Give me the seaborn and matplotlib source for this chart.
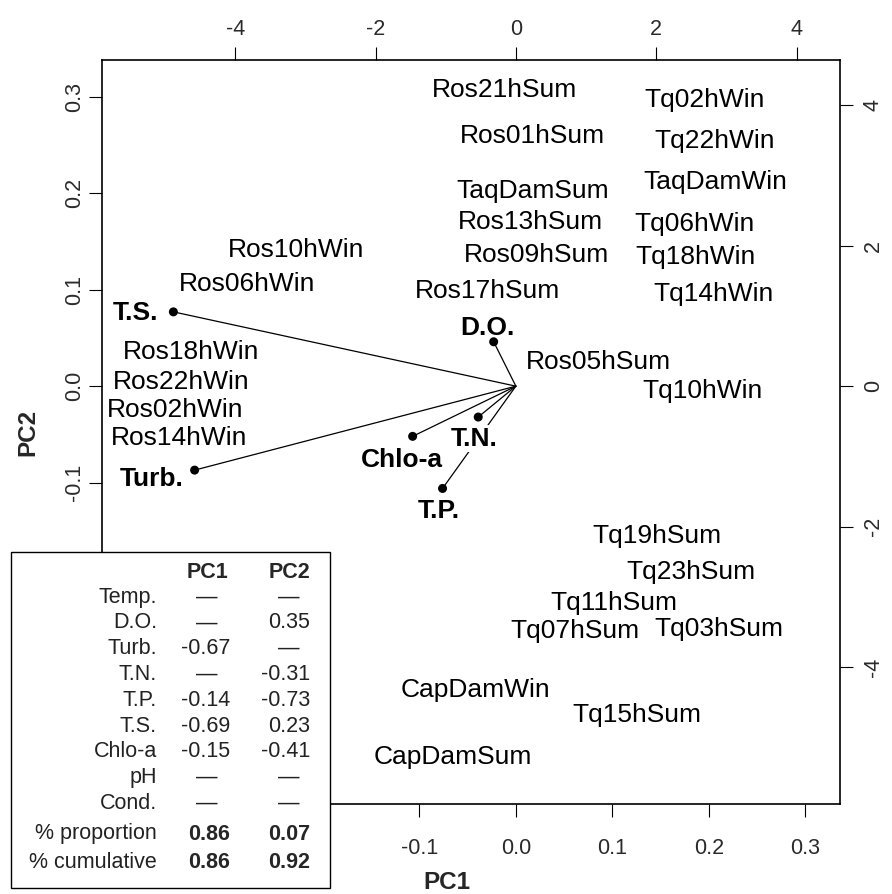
import matplotlib
matplotlib.use("Agg")
import matplotlib.pyplot as plt
import seaborn as sns
import pandas as pd
from matplotlib.patches import Rectangle

# Sample scores (PC1, PC2)
sites = ["Ros21hSum", "Tq02hWin", "Ros01hSum", "Tq22hWin", "TaqDamSum", "TaqDamWin",
         "Ros13hSum", "Tq06hWin", "Ros09hSum", "Tq18hWin", "Ros17hSum", "Tq14hWin",
         "Ros10hWin", "Ros06hWin", "Ros05hSum", "Tq10hWin", "Ros18hWin", "Ros22hWin",
         "Ros02hWin", "Ros14hWin", "Tq19hSum", "Tq23hSum", "Tq11hSum", "Tq07hSum",
         "Tq03hSum", "CapDamWin", "Tq15hSum", "CapDamSum"]
site_pc1 = [-0.16, 2.69, 0.24, 2.84, 0.24, 2.84, 0.21, 2.54, 0.30, 2.56, -0.40, 2.81,
            -3.13, -3.83, 1.17, 2.66, -4.63, -4.77, -4.86, -4.80, 2.01, 2.49, 1.39, 0.84,
            2.90, -0.57, 1.73, -0.90]
site_pc2 = [4.26, 4.11, 3.60, 3.53, 2.81, 2.94, 2.38, 2.34, 1.90, 1.87, 1.39, 1.35,
            1.98, 1.49, 0.38, -0.03, 0.52, 0.10, -0.30, -0.71, -2.10, -2.61, -3.05, -3.46,
            -3.43, -4.30, -4.65, -5.25]

# Variable loadings drawn as vectors
variables = ["T.S.", "Turb.", "D.O.", "T.N.", "Chlo-a", "T.P."]
var_pc1 = [-0.355, -0.333, -0.023, -0.039, -0.107, -0.076]
var_pc2 = [0.077, -0.087, 0.046, -0.032, -0.052, -0.106]

# Loadings table
table_rows = ["Temp.", "D.O.", "Turb.", "T.N.", "T.P.", "T.S.", "Chlo-a", "pH", "Cond."]
table_pc1 = [None, None, -0.67, None, -0.14, -0.69, -0.15, None, None]
table_pc2 = [None, 0.35, None, -0.31, -0.73, 0.23, -0.41, None, None]
proportion = [0.86, 0.07]
cumulative = [0.86, 0.92]

W, H = 892, 894
sns.set_theme(style="white")
plt.rcParams["font.family"] = ["Liberation Sans", "DejaVu Sans"]

fig = plt.figure(figsize=(W / 100, H / 100), dpi=100)
fig.patch.set_facecolor("white")


def fx(x):
    return x / W


def fy(y):
    return 1 - y / H


left, right, top, bottom = 102, 840, 60, 804
pos = [fx(left), fy(bottom), fx(right) - fx(left), fy(top) - fy(bottom)]

ax = fig.add_axes(pos)
ax.set_facecolor("white")
xlim = (-0.429, 0.336)
ylim = (-0.433, 0.338)
ax.set_xlim(*xlim)
ax.set_ylim(*ylim)

# Score axes share the frame, scaled relative to the loadings
k = 13.75
axs = fig.add_axes(pos, frameon=False)
axs.set_xlim(xlim[0] * k, xlim[1] * k)
axs.set_ylim(ylim[0] * k, ylim[1] * k)
axs.patch.set_visible(False)

for sp in ax.spines.values():
    sp.set_color("black")
    sp.set_linewidth(1.2)

tick_kw = dict(direction="out", length=9.5, width=0.8, color="black",
               labelcolor="#2a2a2a", labelsize=15.5)
ax.set_xticks([-0.1, 0.0, 0.1, 0.2, 0.3])
ax.set_yticks([-0.1, 0.0, 0.1, 0.2, 0.3])
ax.tick_params(axis="x", bottom=True, top=False, pad=15, **tick_kw)
ax.tick_params(axis="y", left=True, right=False, pad=3, **tick_kw)
ax.set_xticklabels([f"{v:.1f}" for v in ax.get_xticks()])
ax.set_yticklabels([f"{v:.1f}" for v in ax.get_yticks()], rotation=90, va="center")

axs.set_xticks([-4, -2, 0, 2, 4])
axs.set_yticks([-4, -2, 0, 2, 4])
axs.xaxis.tick_top()
axs.yaxis.tick_right()
axs.tick_params(axis="x", top=True, bottom=False, pad=4.7, **tick_kw)
axs.tick_params(axis="y", right=True, left=False, pad=7, **tick_kw)
axs.set_xticklabels([str(v) for v in axs.get_xticks().astype(int)])
axs.set_yticklabels([str(v) for v in axs.get_yticks().astype(int)], rotation=90,
                    va="center")

ax.set_xlabel("PC1", fontsize=17.5, fontweight="bold")
ax.xaxis.set_label_coords(0.4675, -0.090)
ax.set_ylabel("PC2", fontsize=17.5, fontweight="bold")
ax.yaxis.set_label_coords(-0.0854, 0.5)

# Sample labels
FS = 19
for name, x, y in zip(sites, site_pc1, site_pc2):
    axs.annotate(name, (x, y), xytext=(0, -0.36 * FS), textcoords="offset points",
                 ha="center", va="baseline", fontsize=FS, color="black")

# Loading vectors
for x, y in zip(var_pc1, var_pc2):
    ax.plot([0, x], [0, y], color="black", lw=0.9, zorder=2)
load_df = pd.DataFrame({"PC1": var_pc1, "PC2": var_pc2, "variable": variables})
sns.scatterplot(data=load_df, x="PC1", y="PC2", ax=ax, color="black", s=42,
                edgecolor="none", zorder=5, legend=False)

label_offsets = {"T.S.": (-38, 1), "Turb.": (-43, -6), "D.O.": (-6, 16),
                 "T.N.": (-4, -19), "Chlo-a": (-11, -21), "T.P.": (-4, -20)}
for name, x, y in zip(variables, var_pc1, var_pc2):
    dx, dy = label_offsets[name]
    bbox = None
    if name == "T.N.":
        bbox = dict(facecolor="white", edgecolor="none", pad=1.0)
    ax.annotate(name, (x, y), xytext=(dx * 0.72, dy * 0.72 - 0.36 * FS),
                textcoords="offset points", ha="center", va="baseline",
                fontsize=FS, fontweight="bold", color="black", bbox=bbox, zorder=4)

# Loadings table box
lx0, lx1, ly0, ly1 = 11, 330, 552, 888
fig.patches.append(Rectangle((fx(lx0), fy(ly1)), fx(lx1) - fx(lx0), fy(ly0) - fy(ly1),
                             transform=fig.transFigure, facecolor="white",
                             edgecolor="black", lw=1.0, zorder=10))
TFS = 15.5
col_num = [230, 310]
col_mid = [207, 289]
fig.text(fx(col_mid[0]), fy(572), "PC1", ha="center", va="center", fontsize=TFS,
         fontweight="bold", zorder=11)
fig.text(fx(col_mid[1]), fy(572), "PC2", ha="center", va="center", fontsize=TFS,
         fontweight="bold", zorder=11)
row_y0, row_dy = 597, 25.8
for i, (name, a, b) in enumerate(zip(table_rows, table_pc1, table_pc2)):
    yy = fy(row_y0 + i * row_dy)
    fig.text(fx(157), yy, name, ha="right", va="center", fontsize=TFS, color="#222222",
             zorder=11)
    for j, v in enumerate((a, b)):
        if v is None:
            fig.text(fx(col_mid[j]), yy, "\u2014", ha="center", va="center",
                     fontsize=TFS, color="#222222", zorder=11)
        else:
            fig.text(fx(col_num[j]), yy, f"{v:.2f}", ha="right", va="center",
                     fontsize=TFS, color="#222222", zorder=11)
for yy, name, vals in ((834, "% proportion", proportion), (862, "% cumulative", cumulative)):
    fig.text(fx(157), fy(yy), name, ha="right", va="center", fontsize=TFS,
             color="#222222", zorder=11)
    for j, v in enumerate(vals):
        fig.text(fx(col_num[j]), fy(yy), f"{v:.2f}", ha="right", va="center",
                 fontsize=TFS, fontweight="bold", zorder=11)

fig.savefig("out.png", dpi=100, facecolor="white")
